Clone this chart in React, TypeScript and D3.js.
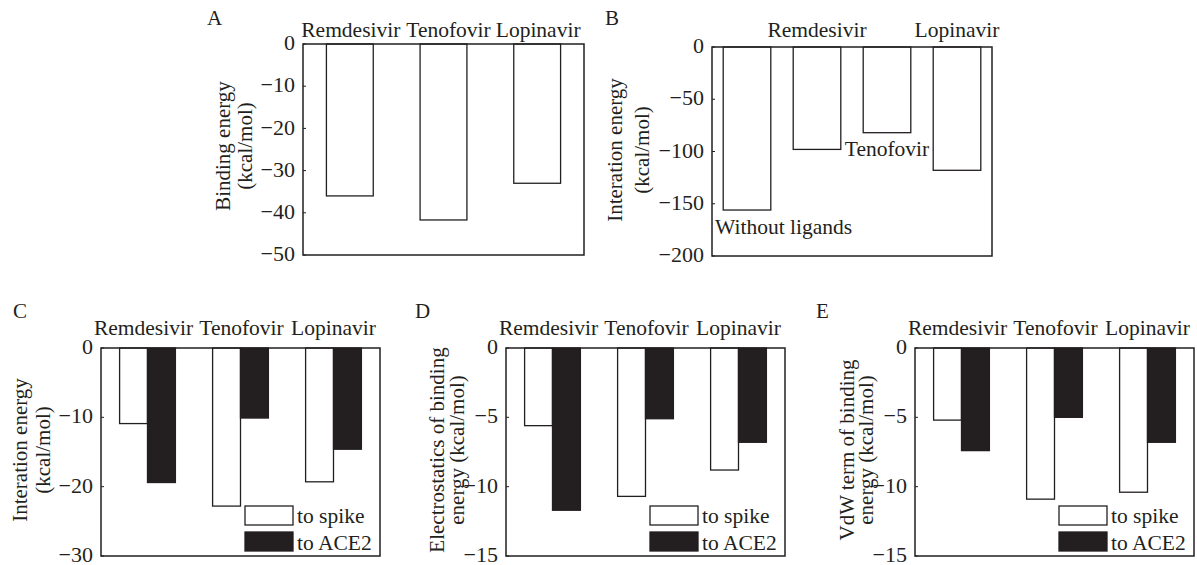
import React from "react";
import * as d3 from "d3";

// values
const drugs = ["Remdesivir", "Tenofovir", "Lopinavir"];
const bindingEnergy = [-36, -41.7, -33];

const bCategories = ["Without ligands", "Remdesivir", "Tenofovir", "Lopinavir"];
const bInteraction = [-156, -98, -82, -118];

const series = ["to spike", "to ACE2"];
const cSpike = [-10.9, -22.8, -19.3];
const cAce2 = [-19.4, -10.1, -14.6];
const dSpike = [-5.6, -10.7, -8.8];
const dAce2 = [-11.7, -5.1, -6.8];
const eSpike = [-5.2, -10.9, -10.4];
const eAce2 = [-7.4, -5.0, -6.8];

const FONT = "'Liberation Serif', 'Times New Roman', serif";
const FS = 21.5; // category labels
const KFS = 22; // tick labels
const TFS = 21; // axis titles
const INK = "#231f20";

type Frame = { x0: number; x1: number; y0: number; y1: number };

const YAxis = ({ f, y, ticks }: { f: Frame; y: d3.ScaleLinear<number, number>; ticks: number[] }) => {
  const fmt = d3.format("d");
  return (
    <g>
      {ticks.map((t) => (
        <g key={t}>
          <line x1={f.x0} x2={f.x0 + 3} y1={y(t)} y2={y(t)} stroke={INK} strokeWidth={1} />
          <text x={f.x0 - 8} y={y(t)} dy="0.28em" textAnchor="end" fontSize={KFS} fill={INK}>
            {t < 0 ? "\u2212" + fmt(-t) : fmt(t)}
          </text>
        </g>
      ))}
    </g>
  );
};

const FrameRect = ({ f }: { f: Frame }) => (
  <rect x={f.x0} y={f.y0} width={f.x1 - f.x0} height={f.y1 - f.y0} fill="none" stroke={INK} strokeWidth={1.5} />
);

const YTitle = ({ lines, xs, cy }: { lines: string[]; xs: number[]; cy: number }) => (
  <g>
    {lines.map((l, i) => (
      <text key={i} transform={`translate(${xs[i]},${cy}) rotate(-90)`} dy="0.35em" textAnchor="middle" fontSize={TFS} fill={INK}>
        {l}
      </text>
    ))}
  </g>
);

const PanelA = () => {
  const f = { x0: 303, x1: 584, y0: 44, y1: 255 };
  const x = d3.scaleBand().domain(drugs).range([f.x0, f.x1]).paddingInner(0.5).paddingOuter(0.25);
  const y = d3.scaleLinear().domain([0, -50]).range([f.y0, f.y1]);
  const nudge = [1, 5, 1];
  return (
    <g>
      <text x={207} y={25} fontSize={21} fill={INK}>A</text>
      {drugs.map((d, i) => (
        <rect key={d} x={x(d)} y={y(0)} width={x.bandwidth()} height={y(bindingEnergy[i]) - y(0)} fill="#fff" stroke={INK} strokeWidth={1.3} />
      ))}
      <FrameRect f={f} />
      <YAxis f={f} y={y} ticks={y.ticks(5)} />
      {drugs.map((d, i) => (
        <text key={d} x={x(d)! + x.bandwidth() / 2 + nudge[i]} y={37} textAnchor="middle" fontSize={FS} fill={INK}>{d}</text>
      ))}
      <YTitle lines={["Binding energy", "(kcal/mol)"]} xs={[223, 245]} cy={146} />
    </g>
  );
};

const PanelB = () => {
  const f = { x0: 712, x1: 992, y0: 47, y1: 256 };
  const x = d3.scaleBand().domain(bCategories).range([f.x0, f.x1]).paddingInner(0.32).paddingOuter(0.16);
  const y = d3.scaleLinear().domain([0, -200]).range([f.y0, f.y1]);
  const c = (k: string) => x(k)! + x.bandwidth() / 2;
  return (
    <g>
      <text x={605} y={25} fontSize={21} fill={INK}>B</text>
      {bCategories.map((d, i) => (
        <rect key={d} x={x(d)} y={y(0)} width={x.bandwidth()} height={y(bInteraction[i]) - y(0)} fill="#fff" stroke={INK} strokeWidth={1.3} />
      ))}
      <FrameRect f={f} />
      <YAxis f={f} y={y} ticks={y.ticks(4)} />
      <text x={c("Remdesivir")} y={37} textAnchor="middle" fontSize={FS} fill={INK}>Remdesivir</text>
      <text x={c("Lopinavir")} y={37} textAnchor="middle" fontSize={FS} fill={INK}>Lopinavir</text>
      <text x={c("Tenofovir")} y={y(bInteraction[2]) + 23} textAnchor="middle" fontSize={FS} fill={INK}>Tenofovir</text>
      <text x={f.x0 + 3} y={y(bInteraction[0]) + 24} fontSize={FS} fill={INK}>Without ligands</text>
      <YTitle lines={["Interation energy", "(kcal/mol)"]} xs={[615, 642]} cy={150} />
    </g>
  );
};

const GroupPanel = ({
  label, lx, f, ymin, step, spike, ace2, title, txs,
}: {
  label: string; lx: number; f: Frame; ymin: number; step: number;
  spike: number[]; ace2: number[]; title: string[]; txs: number[];
}) => {
  const x = d3.scaleBand().domain(drugs).range([f.x0, f.x1]).paddingInner(0.4).paddingOuter(0.2);
  const xs = d3.scaleBand().domain(series).range([0, x.bandwidth()]);
  const y = d3.scaleLinear().domain([0, ymin]).range([f.y0, f.y1]);
  const ticks = d3.range(0, ymin - 0.001, -step);
  const vals = [spike, ace2];
  const fills = ["#fff", "#231f20"];
  const lgX = f.x1 - 135;
  const nudge = [-4, 1, 0];
  return (
    <g>
      <text x={lx} y={318} fontSize={21} fill={INK}>{label}</text>
      {drugs.map((d, i) =>
        series.map((s, j) => (
          <rect key={d + s} x={x(d)! + xs(s)!} y={y(0)} width={xs.bandwidth()} height={y(vals[j][i]) - y(0)} fill={fills[j]} stroke={INK} strokeWidth={1.3} />
        ))
      )}
      <FrameRect f={f} />
      <YAxis f={f} y={y} ticks={ticks} />
      {drugs.map((d, i) => (
        <text key={d} x={x(d)! + x.bandwidth() / 2 + nudge[i]} y={335} textAnchor="middle" fontSize={FS} fill={INK}>{d}</text>
      ))}
      {series.map((s, j) => (
        <g key={s}>
          <rect x={lgX} y={f.y1 - 50 + j * 26} width={48} height={19} fill={fills[j]} stroke={INK} strokeWidth={1.3} />
          <text x={lgX + 52} y={f.y1 - 33 + j * 27} fontSize={FS} fill={INK}>{s}</text>
        </g>
      ))}
      <YTitle lines={title} xs={txs} cy={450} />
    </g>
  );
};

export default function App() {
  return (
    <svg
      width={1197}
      height={565}
      style={{ position: "absolute", left: 0, top: 0, display: "block", background: "#fff" }}
      fontFamily={FONT}
    >
      <PanelA />
      <PanelB />
      <GroupPanel label="C" lx={13} f={{ x0: 101, x1: 380, y0: 348, y1: 556 }} ymin={-30} step={10}
        spike={cSpike} ace2={cAce2} title={["Interation energy", "(kcal/mol)"]} txs={[20, 43]} />
      <GroupPanel label="D" lx={415} f={{ x0: 506, x1: 785, y0: 348, y1: 556 }} ymin={-15} step={5}
        spike={dSpike} ace2={dAce2} title={["Electrostatics of binding", "energy (kcal/mol)"]} txs={[437, 457]} />
      <GroupPanel label="E" lx={816} f={{ x0: 915, x1: 1194, y0: 348, y1: 556 }} ymin={-15} step={5}
        spike={eSpike} ace2={eAce2} title={["VdW term of binding", "energy (kcal/mol)"]} txs={[847, 866]} />
    </svg>
  );
}
